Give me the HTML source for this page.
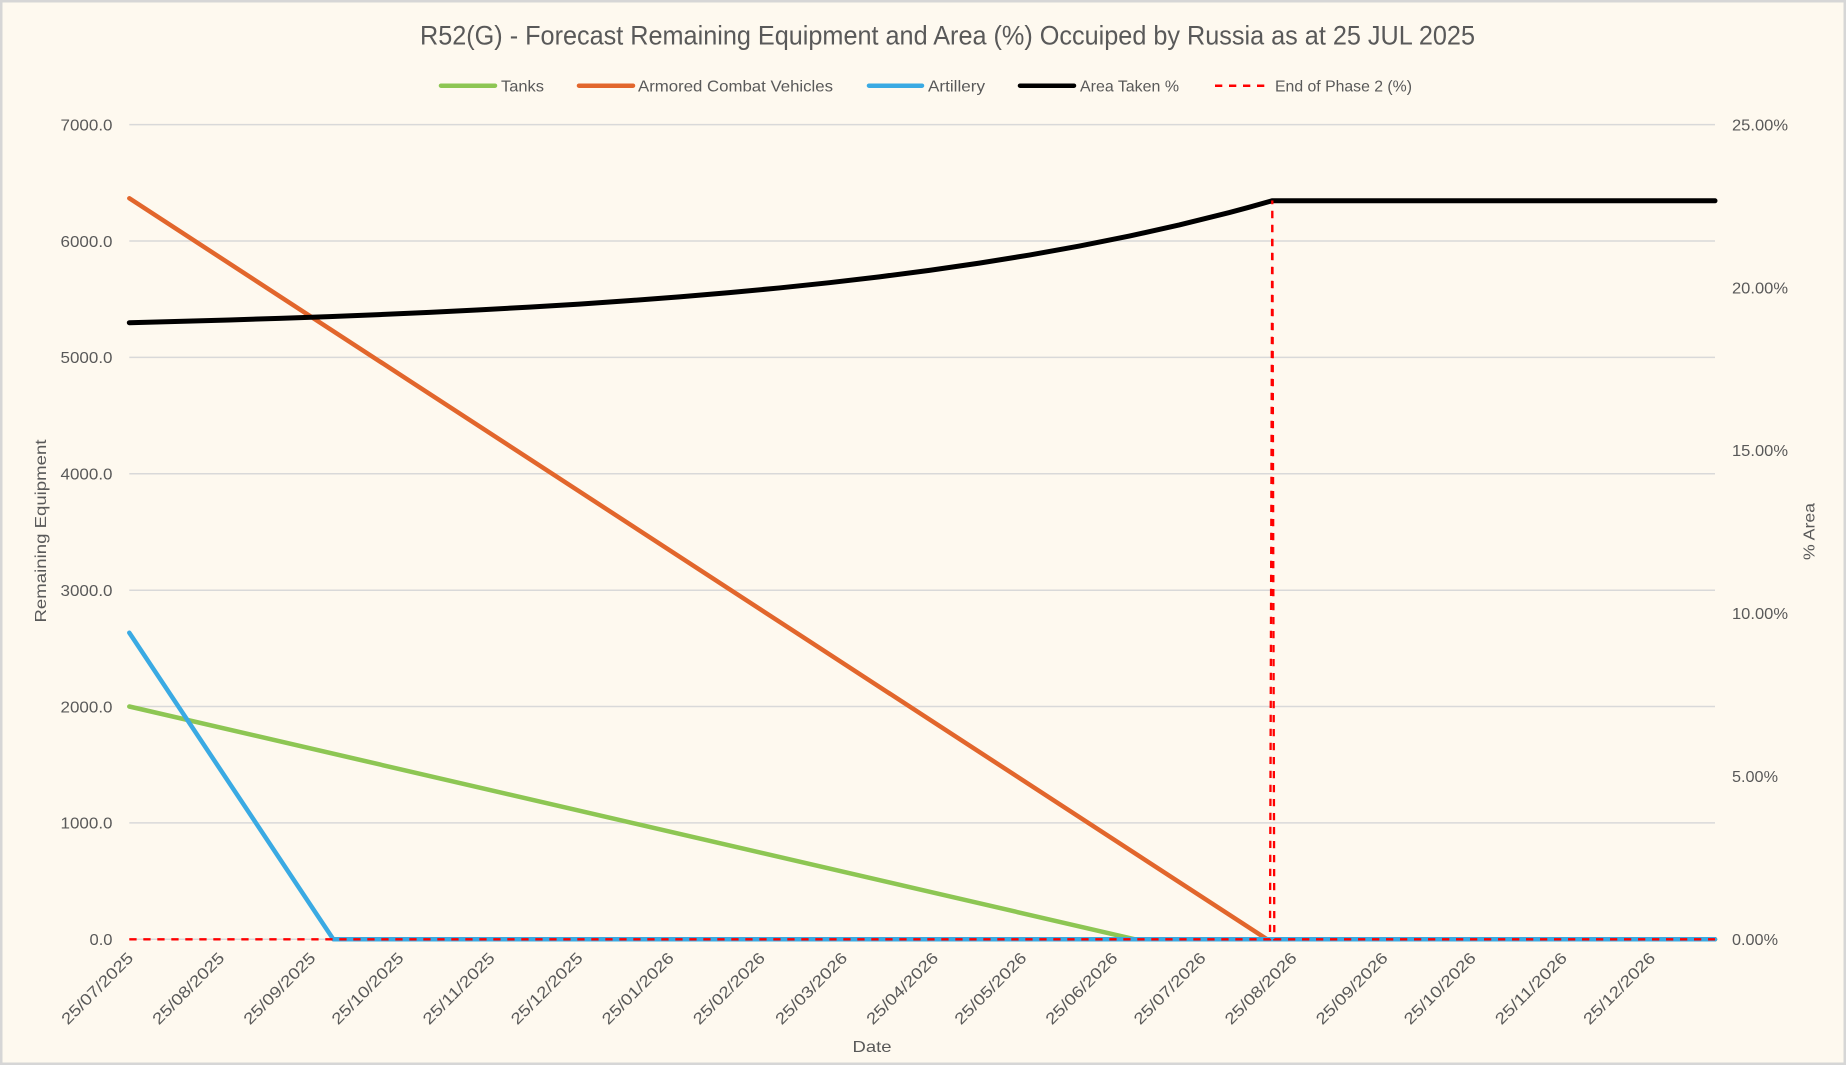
<!DOCTYPE html>
<html>
<head>
<meta charset="utf-8">
<style>
html,body{margin:0;padding:0;background:#FEF9EF;}
svg{display:block;}
text{font-family:"Liberation Sans", Arial, sans-serif;fill:#595959;}
</style>
</head>
<body>
<svg width="1846" height="1065" viewBox="0 0 1846 1065" xmlns="http://www.w3.org/2000/svg">
  <rect x="0" y="0" width="1846" height="1065" fill="#FEF9EF"/>
  <rect x="1.25" y="1.25" width="1843.5" height="1062.5" fill="none" stroke="#D6D6D6" stroke-width="2.5"/>

  <!-- Title -->
  <text x="420" y="44.3" font-size="27" textLength="1055" lengthAdjust="spacingAndGlyphs">R52(G) - Forecast Remaining Equipment and Area (%) Occuiped by Russia as at 25 JUL 2025</text>

  <!-- Legend -->
  <g stroke-linecap="round">
    <line x1="441" y1="85.7" x2="495" y2="85.7" stroke="#8DC653" stroke-width="4.5"/>
    <line x1="579" y1="85.7" x2="633" y2="85.7" stroke="#E2662C" stroke-width="4.5"/>
    <line x1="869" y1="85.7" x2="922" y2="85.7" stroke="#3AAAE3" stroke-width="4.5"/>
    <line x1="1020" y1="85.7" x2="1074" y2="85.7" stroke="#000000" stroke-width="4.5"/>
  </g>
  <line x1="1215" y1="85.7" x2="1265" y2="85.7" stroke="#FF0000" stroke-width="2.5" stroke-dasharray="7.3 6.7"/>
  <text x="501" y="91.5" font-size="16" textLength="43" lengthAdjust="spacingAndGlyphs">Tanks</text>
  <text x="638" y="91.5" font-size="16" textLength="195" lengthAdjust="spacingAndGlyphs">Armored Combat Vehicles</text>
  <text x="928" y="91.5" font-size="16" textLength="57" lengthAdjust="spacingAndGlyphs">Artillery</text>
  <text x="1080" y="91.5" font-size="16" textLength="99" lengthAdjust="spacingAndGlyphs">Area Taken %</text>
  <text x="1275" y="91.5" font-size="16" textLength="137" lengthAdjust="spacingAndGlyphs">End of Phase 2 (%)</text>

  <!-- Gridlines -->
  <g stroke="#D9D9D9" stroke-width="1.5">
    <line x1="129.3" y1="124.6" x2="1715" y2="124.6"/>
    <line x1="129.3" y1="241.0" x2="1715" y2="241.0"/>
    <line x1="129.3" y1="357.4" x2="1715" y2="357.4"/>
    <line x1="129.3" y1="473.8" x2="1715" y2="473.8"/>
    <line x1="129.3" y1="590.2" x2="1715" y2="590.2"/>
    <line x1="129.3" y1="706.5" x2="1715" y2="706.5"/>
    <line x1="129.3" y1="822.9" x2="1715" y2="822.9"/>
    <line x1="129.3" y1="939.3" x2="1715" y2="939.3"/>
  </g>

  <!-- Left axis labels -->
  <g font-size="16" text-anchor="end">
    <text x="112.5" y="130.4" textLength="52" lengthAdjust="spacingAndGlyphs">7000.0</text>
    <text x="112.5" y="246.8" textLength="52" lengthAdjust="spacingAndGlyphs">6000.0</text>
    <text x="112.5" y="363.2" textLength="52" lengthAdjust="spacingAndGlyphs">5000.0</text>
    <text x="112.5" y="479.6" textLength="52" lengthAdjust="spacingAndGlyphs">4000.0</text>
    <text x="112.5" y="596.0" textLength="52" lengthAdjust="spacingAndGlyphs">3000.0</text>
    <text x="112.5" y="712.3" textLength="52" lengthAdjust="spacingAndGlyphs">2000.0</text>
    <text x="112.5" y="828.7" textLength="52" lengthAdjust="spacingAndGlyphs">1000.0</text>
    <text x="112.5" y="945.1" textLength="23" lengthAdjust="spacingAndGlyphs">0.0</text>
  </g>

  <!-- Right axis labels -->
  <g font-size="16">
    <text x="1732" y="130.4" textLength="56" lengthAdjust="spacingAndGlyphs">25.00%</text>
    <text x="1732" y="293.3" textLength="56" lengthAdjust="spacingAndGlyphs">20.00%</text>
    <text x="1732" y="456.2" textLength="56" lengthAdjust="spacingAndGlyphs">15.00%</text>
    <text x="1732" y="619.2" textLength="56" lengthAdjust="spacingAndGlyphs">10.00%</text>
    <text x="1732" y="782.1" textLength="46" lengthAdjust="spacingAndGlyphs">5.00%</text>
    <text x="1732" y="945.1" textLength="46" lengthAdjust="spacingAndGlyphs">0.00%</text>
  </g>

  <!-- X axis labels -->
  <g font-size="16" text-anchor="end">
    <text transform="translate(134.3,959) rotate(-45)" textLength="94" lengthAdjust="spacingAndGlyphs">25/07/2025</text>
    <text transform="translate(225.4,959) rotate(-45)" textLength="94" lengthAdjust="spacingAndGlyphs">25/08/2025</text>
    <text transform="translate(316.5,959) rotate(-45)" textLength="94" lengthAdjust="spacingAndGlyphs">25/09/2025</text>
    <text transform="translate(404.6,959) rotate(-45)" textLength="94" lengthAdjust="spacingAndGlyphs">25/10/2025</text>
    <text transform="translate(495.7,959) rotate(-45)" textLength="94" lengthAdjust="spacingAndGlyphs">25/11/2025</text>
    <text transform="translate(583.8,959) rotate(-45)" textLength="94" lengthAdjust="spacingAndGlyphs">25/12/2025</text>
    <text transform="translate(674.9,959) rotate(-45)" textLength="94" lengthAdjust="spacingAndGlyphs">25/01/2026</text>
    <text transform="translate(766.0,959) rotate(-45)" textLength="94" lengthAdjust="spacingAndGlyphs">25/02/2026</text>
    <text transform="translate(848.2,959) rotate(-45)" textLength="94" lengthAdjust="spacingAndGlyphs">25/03/2026</text>
    <text transform="translate(939.3,959) rotate(-45)" textLength="94" lengthAdjust="spacingAndGlyphs">25/04/2026</text>
    <text transform="translate(1027.5,959) rotate(-45)" textLength="94" lengthAdjust="spacingAndGlyphs">25/05/2026</text>
    <text transform="translate(1118.5,959) rotate(-45)" textLength="94" lengthAdjust="spacingAndGlyphs">25/06/2026</text>
    <text transform="translate(1206.7,959) rotate(-45)" textLength="94" lengthAdjust="spacingAndGlyphs">25/07/2026</text>
    <text transform="translate(1297.7,959) rotate(-45)" textLength="94" lengthAdjust="spacingAndGlyphs">25/08/2026</text>
    <text transform="translate(1388.8,959) rotate(-45)" textLength="94" lengthAdjust="spacingAndGlyphs">25/09/2026</text>
    <text transform="translate(1476.9,959) rotate(-45)" textLength="94" lengthAdjust="spacingAndGlyphs">25/10/2026</text>
    <text transform="translate(1568.0,959) rotate(-45)" textLength="94" lengthAdjust="spacingAndGlyphs">25/11/2026</text>
    <text transform="translate(1656.2,959) rotate(-45)" textLength="94" lengthAdjust="spacingAndGlyphs">25/12/2026</text>
  </g>

  <!-- Axis titles -->
  <text transform="translate(45.8,531) rotate(-90)" font-size="16" text-anchor="middle" textLength="183" lengthAdjust="spacingAndGlyphs">Remaining Equipment</text>
  <text transform="translate(1814.5,531.5) rotate(-90)" font-size="16" text-anchor="middle" textLength="57" lengthAdjust="spacingAndGlyphs">% Area</text>
  <text x="872" y="1052" font-size="16" text-anchor="middle" textLength="39" lengthAdjust="spacingAndGlyphs">Date</text>

  <!-- Series -->
  <g fill="none" stroke-linejoin="round" stroke-linecap="round">
    <polyline points="129.3,706.5 1135,939.3 1715,939.3" stroke="#8DC653" stroke-width="4.5"/>
    <polyline points="129.3,198.3 1267,939.3 1715,939.3" stroke="#E2662C" stroke-width="4.5"/>
    <polyline points="129.3,632.7 333.3,939.3 1715,939.3" stroke="#3AAAE3" stroke-width="4.5"/>
    <polyline points="129.3,322.7 179.3,321.40 229.3,319.96 279.3,318.35 329.3,316.57 379.3,314.57 429.3,312.35 479.3,309.88 529.3,307.13 579.3,304.07 629.3,300.66 679.3,296.86 729.3,292.63 779.3,287.93 829.3,282.68 879.3,276.85 929.3,270.34 979.3,263.11 1029.3,255.05 1079.3,246.08 1129.3,236.08 1179.3,224.96 1229.3,212.57 1249.3,207.2 1272,200.8 1715,200.8" stroke="#000000" stroke-width="5"/>
  </g>
  <polyline points="129.3,939.3 1270,939.3 1272.3,200.5 1274.3,939.3 1715,939.3" fill="none" stroke="#FF0000" stroke-width="2.3" stroke-dasharray="7.3 6.7"/>
</svg>
</body>
</html>
